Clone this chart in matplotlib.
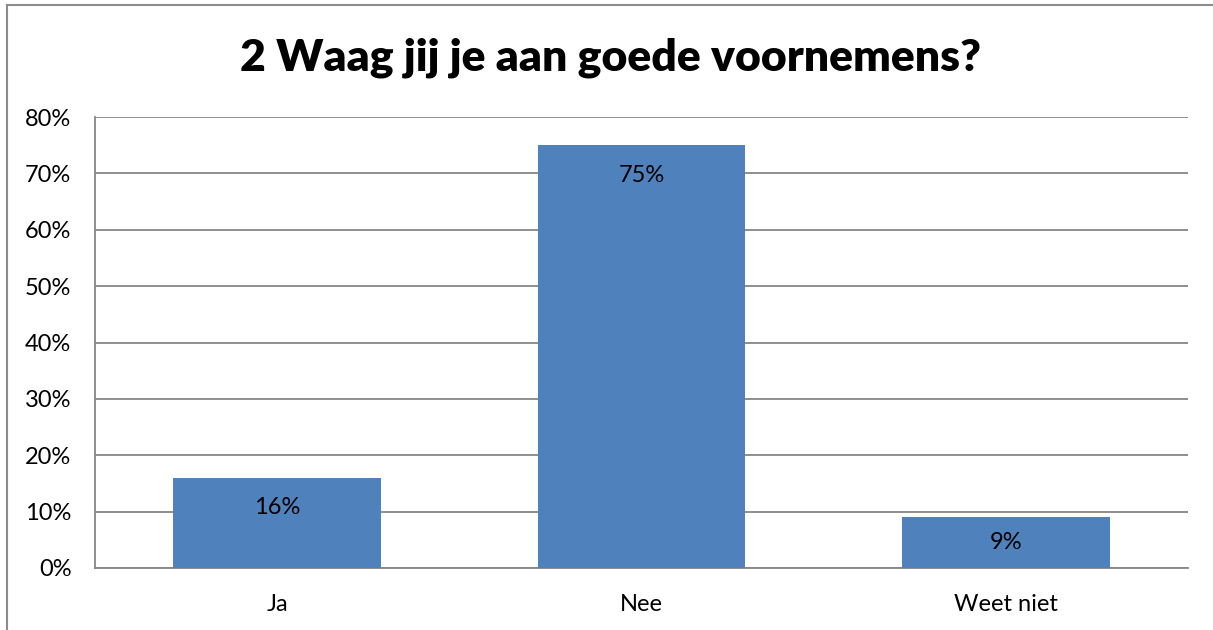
"""
Bar chart: 2 Waag jij je aan goede voornemens?
"""

import matplotlib
matplotlib.use('Agg')
import matplotlib.pyplot as plt
from matplotlib.lines import Line2D
from matplotlib.ticker import FuncFormatter

categories = ['Ja', 'Nee', 'Weet niet']
percentages = [16, 75, 9]
y_ticks = [0, 10, 20, 30, 40, 50, 60, 70, 80]

plt.rcParams['font.family'] = ['Lato', 'DejaVu Sans']

W, H = 1213, 630
fig = plt.figure(figsize=(W / 100, H / 100), dpi=100)
fig.patch.set_facecolor('white')

# outer chart frame (only left and top visible in the crop)
fig.add_artist(Line2D([7 / W, 7 / W], [0, 1 - 5 / H], transform=fig.transFigure,
                      color='#8c8c8c', lw=1.5))
fig.add_artist(Line2D([7 / W, 1], [1 - 5 / H, 1 - 5 / H], transform=fig.transFigure,
                      color='#8c8c8c', lw=1.5))

ax = fig.add_axes([95 / W, (H - 568) / H, 1093 / W, 451 / H])

x = range(len(categories))
bars = ax.bar(x, percentages, width=0.57, color='#4f81bd', zorder=3)

# labels sit near the top of the bar, centred when the bar is short
for b, v in zip(bars, percentages):
    ax.text(b.get_x() + b.get_width() / 2, max(v - 5.3, v / 2), f'{v}%',
            ha='center', va='center', fontsize=17, color='black', zorder=4)

ax.set_xlim(-0.5, len(categories) - 0.5)
ax.set_ylim(0, 80)
ax.set_yticks(y_ticks)
ax.yaxis.set_major_formatter(FuncFormatter(lambda v, p: f'{v:.0f}%'))
ax.set_xticks(list(x))
ax.set_xticklabels(categories)

ax.grid(axis='y', color='#868686', linewidth=1.3, zorder=0)
ax.tick_params(axis='both', length=0, labelsize=17, colors='black')
ax.tick_params(axis='y', pad=17)
ax.tick_params(axis='x', pad=19)

for side in ['top', 'right']:
    ax.spines[side].set_visible(False)
for side in ['left', 'bottom']:
    ax.spines[side].set_color('#868686')
    ax.spines[side].set_linewidth(1.3)

fig.text(610 / W, 1 - 58 / H, '2 Waag jij je aan goede voornemens?',
         ha='center', va='center', fontsize=32, fontweight='heavy')

plt.savefig('out.png', dpi=100)
